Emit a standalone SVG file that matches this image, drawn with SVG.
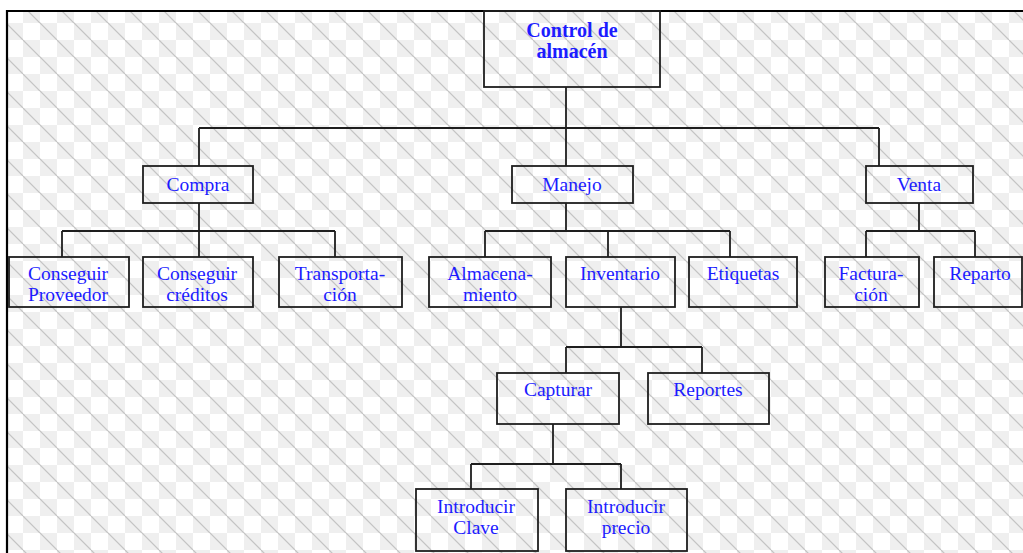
<svg xmlns="http://www.w3.org/2000/svg" width="1023" height="553" viewBox="0 0 1023 553">
  <defs>
    <!-- checkered backdrop with diagonal hatching -->
    <pattern id="bg" patternUnits="userSpaceOnUse" x="6" y="6" width="34" height="34">
      <rect width="34" height="34" fill="#ffffff"/>
      <rect x="17" y="0" width="17" height="17" fill="#efefef"/>
      <rect x="0" y="17" width="17" height="17" fill="#efefef"/>
      <path d="M0 17 L17 34 M17 0 L34 17 M-17 0 L17 34" stroke="#c4c4c4" stroke-width="1.2"/>
    </pattern>
    <style>
      .box { fill: none; stroke: #1e1e1e; stroke-width: 1.8; }
      .lbl { font-family: "Liberation Serif", "Times New Roman", serif; font-size: 19.5px; fill: #1c1cff; text-anchor: middle; }
      .root { font-weight: bold; font-size: 20px; }
      .wire { fill: none; stroke: #1e1e1e; stroke-width: 1.8; }
    </style>
  </defs>

  <rect width="1023" height="553" fill="#ffffff"/>
  <rect x="7" y="11" width="1016" height="542" fill="url(#bg)"/>
  <path d="M7 553 L7 11 L1023 11" fill="none" stroke="#000" stroke-width="2.2"/>

  <g id="connectors">
    <path class="wire" d="M566 87 V128 M199 128 H879 M199 128 V166 M566 128 V166 M879 128 V166"/>
    <path class="wire" d="M199 203 V231 M62 231 H335 M62 231 V257 M199 231 V257 M335 231 V257"/>
    <path class="wire" d="M566 203 V231 M485 231 H730 M485 231 V257 M608 231 V257 M730 231 V257"/>
    <path class="wire" d="M919 203 V231 M866 231 H975 M866 231 V257 M975 231 V257"/>
    <path class="wire" d="M621 307 V347 M566 347 H702 M566 347 V373 M702 347 V373"/>
    <path class="wire" d="M553 424 V464 M471 464 H621 M471 464 V489 M621 464 V489"/>
  </g>

  <g id="control-almacen">
    <rect class="box" x="484" y="11" width="176" height="76"/>
    <text class="lbl root" x="572" y="37">Control de</text>
    <text class="lbl root" x="572" y="58">almacén</text>
  </g>

  <g id="compra">
    <rect class="box" x="143" y="166" width="110" height="37"/>
    <text class="lbl" x="198" y="191">Compra</text>
  </g>
  <g id="manejo">
    <rect class="box" x="512" y="166" width="121" height="37"/>
    <text class="lbl" x="572" y="191">Manejo</text>
  </g>
  <g id="venta">
    <rect class="box" x="866" y="166" width="107" height="37"/>
    <text class="lbl" x="919" y="191">Venta</text>
  </g>

  <g id="conseguir-proveedor">
    <rect class="box" x="9" y="257" width="120" height="50"/>
    <text class="lbl" x="68" y="280">Conseguir</text>
    <text class="lbl" x="68" y="301">Proveedor</text>
  </g>
  <g id="conseguir-creditos">
    <rect class="box" x="143" y="257" width="110" height="50"/>
    <text class="lbl" x="197" y="280">Conseguir</text>
    <text class="lbl" x="197" y="301">créditos</text>
  </g>
  <g id="transportacion">
    <rect class="box" x="279" y="257" width="123" height="50"/>
    <text class="lbl" x="340" y="280">Transporta-</text>
    <text class="lbl" x="340" y="301">ción</text>
  </g>

  <g id="almacenamiento">
    <rect class="box" x="429" y="257" width="122" height="50"/>
    <text class="lbl" x="490" y="280">Almacena-</text>
    <text class="lbl" x="490" y="301">miento</text>
  </g>
  <g id="inventario">
    <rect class="box" x="566" y="257" width="109" height="50"/>
    <text class="lbl" x="620" y="280">Inventario</text>
  </g>
  <g id="etiquetas">
    <rect class="box" x="689" y="257" width="108" height="50"/>
    <text class="lbl" x="743" y="280">Etiquetas</text>
  </g>

  <g id="facturacion">
    <rect class="box" x="825" y="257" width="94" height="50"/>
    <text class="lbl" x="871" y="280">Factura-</text>
    <text class="lbl" x="871" y="301">ción</text>
  </g>
  <g id="reparto">
    <rect class="box" x="934" y="257" width="88" height="50"/>
    <text class="lbl" x="980" y="280">Reparto</text>
  </g>

  <g id="capturar">
    <rect class="box" x="497" y="373" width="122" height="51"/>
    <text class="lbl" x="558" y="396">Capturar</text>
  </g>
  <g id="reportes">
    <rect class="box" x="648" y="373" width="121" height="51"/>
    <text class="lbl" x="708" y="396">Reportes</text>
  </g>

  <g id="introducir-clave">
    <rect class="box" x="416" y="489" width="122" height="62"/>
    <text class="lbl" x="476" y="513">Introducir</text>
    <text class="lbl" x="476" y="534">Clave</text>
  </g>
  <g id="introducir-precio">
    <rect class="box" x="566" y="489" width="121" height="62"/>
    <text class="lbl" x="626" y="513">Introducir</text>
    <text class="lbl" x="626" y="534">precio</text>
  </g>
</svg>
